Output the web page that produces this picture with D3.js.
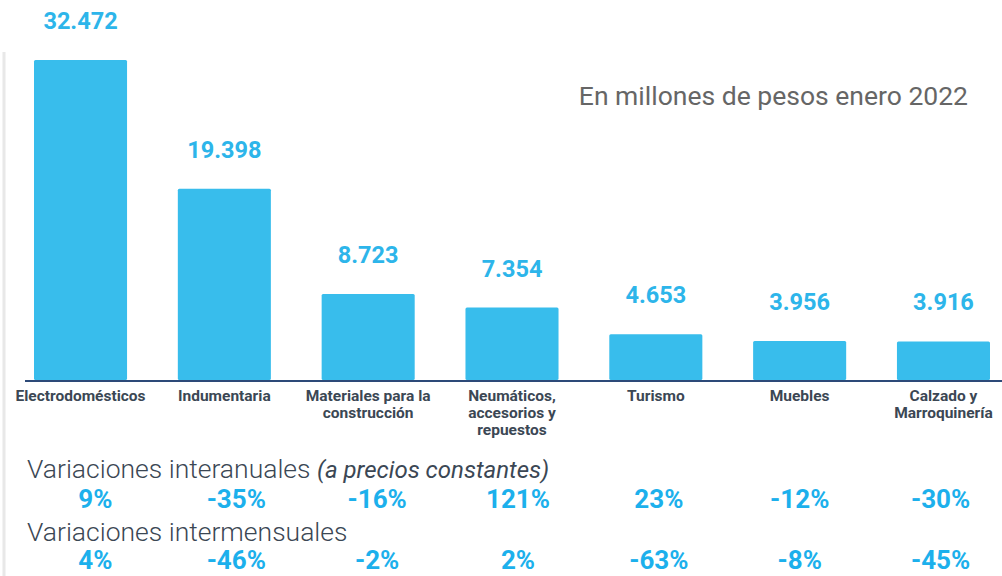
<!DOCTYPE html>
<html>
<head>
<meta charset="utf-8">
<script src="https://cdn.jsdelivr.net/npm/d3@7"></script>
<style>
  body { margin: 0; background: #fff; }
  svg { display: block; font-family: Roboto, sans-serif; }
</style>
</head>
<body>
<svg id="chart" width="1002" height="576"></svg>
<script>
var categories = ["Electrodomésticos", "Indumentaria", "Materiales para la construcción",
    "Neumáticos, accesorios y repuestos", "Turismo", "Muebles", "Calzado y Marroquinería"];
var categoryLines = [["Electrodomésticos"], ["Indumentaria"], ["Materiales para la", "construcción"],
    ["Neumáticos,", "accesorios y", "repuestos"], ["Turismo"], ["Muebles"], ["Calzado y", "Marroquinería"]];
var values = [32472, 19398, 8723, 7354, 4653, 3956, 3916];
var valueLabels = ["32.472", "19.398", "8.723", "7.354", "4.653", "3.956", "3.916"];
var interanual = ["9%", "-35%", "-16%", "121%", "23%", "-12%", "-30%"];
var intermensual = ["4%", "-46%", "-2%", "2%", "-63%", "-8%", "-45%"];

var svg = d3.select("#chart");
var blue = "#38bdec";
var labelBlue = "#2db5ea";
var dark = "#3b4754";

var x = d3.scaleBand()
    .domain(categories)
    .range([34, 990])
    .paddingInner(0.353)
    .paddingOuter(0);

var xPct = d3.scaleBand()
    .domain(categories)
    .range([25, 1011]);

var y = d3.scaleLinear()
    .domain([0, d3.max(values)])
    .range([380, 60]);

// left grey rule
svg.append("line")
    .attr("x1", 4).attr("x2", 4)
    .attr("y1", 52).attr("y2", 576)
    .attr("stroke", "#e8e8e8")
    .attr("stroke-width", 3);

svg.selectAll(".bar")
    .data(values)
    .enter()
    .append("rect")
    .attr("class", "bar")
    .attr("x", (d, i) => x(categories[i]))
    .attr("y", d => y(d))
    .attr("width", x.bandwidth())
    .attr("height", d => y(0) - y(d))
    .attr("rx", 1.5)
    .attr("fill", blue);

svg.selectAll(".val")
    .data(values)
    .enter()
    .append("text")
    .attr("class", "val")
    .attr("x", (d, i) => x(categories[i]) + x.bandwidth() / 2)
    .attr("y", d => y(d) - 31)
    .attr("text-anchor", "middle")
    .attr("font-size", "23.5px")
    .attr("font-weight", "bold")
    .attr("fill", labelBlue)
    .text((d, i) => valueLabels[i]);

// baseline
svg.append("line")
    .attr("x1", 25).attr("x2", 1002)
    .attr("y1", 381).attr("y2", 381)
    .attr("stroke", "#2d4a78")
    .attr("stroke-width", 2);

var catText = svg.selectAll(".cat")
    .data(categoryLines)
    .enter()
    .append("text")
    .attr("class", "cat")
    .attr("text-anchor", "middle")
    .attr("font-size", "15.5px")
    .attr("font-weight", "bold")
    .attr("fill", dark);

catText.selectAll("tspan")
    .data((d, i) => d.map(t => ({ t: t, i: i })))
    .enter()
    .append("tspan")
    .attr("x", d => x(categories[d.i]) + x.bandwidth() / 2)
    .attr("y", (d, j) => 401 + j * 17)
    .text(d => d.t);

svg.append("text")
    .attr("x", 968)
    .attr("y", 105)
    .attr("text-anchor", "end")
    .attr("font-size", "26.5px")
    .attr("fill", "#666")
    .text("En millones de pesos enero 2022");

var row1 = svg.append("text")
    .attr("x", 27)
    .attr("y", 478)
    .attr("font-size", "26.5px")
    .attr("font-weight", 300)
    .attr("fill", dark);
row1.append("tspan").text("Variaciones interanuales ");
row1.append("tspan")
    .attr("font-style", "italic")
    .attr("font-size", "24px")
    .attr("font-weight", 400)
    .text("(a precios constantes)");

svg.append("text")
    .attr("x", 27)
    .attr("y", 541)
    .attr("font-size", "26.5px")
    .attr("font-weight", 300)
    .attr("fill", dark)
    .text("Variaciones intermensuales");

function pctRow(data, yPos) {
    svg.append("g")
        .selectAll("text")
        .data(data)
        .enter()
        .append("text")
        .attr("x", (d, i) => xPct(categories[i]) + xPct.bandwidth() / 2)
        .attr("y", yPos)
        .attr("text-anchor", "middle")
        .attr("font-size", "26px")
        .attr("font-weight", "bold")
        .attr("fill", "#1cb0ec")
        .text(d => d);
}
pctRow(interanual, 508);
pctRow(intermensual, 569);
</script>
</body>
</html>
